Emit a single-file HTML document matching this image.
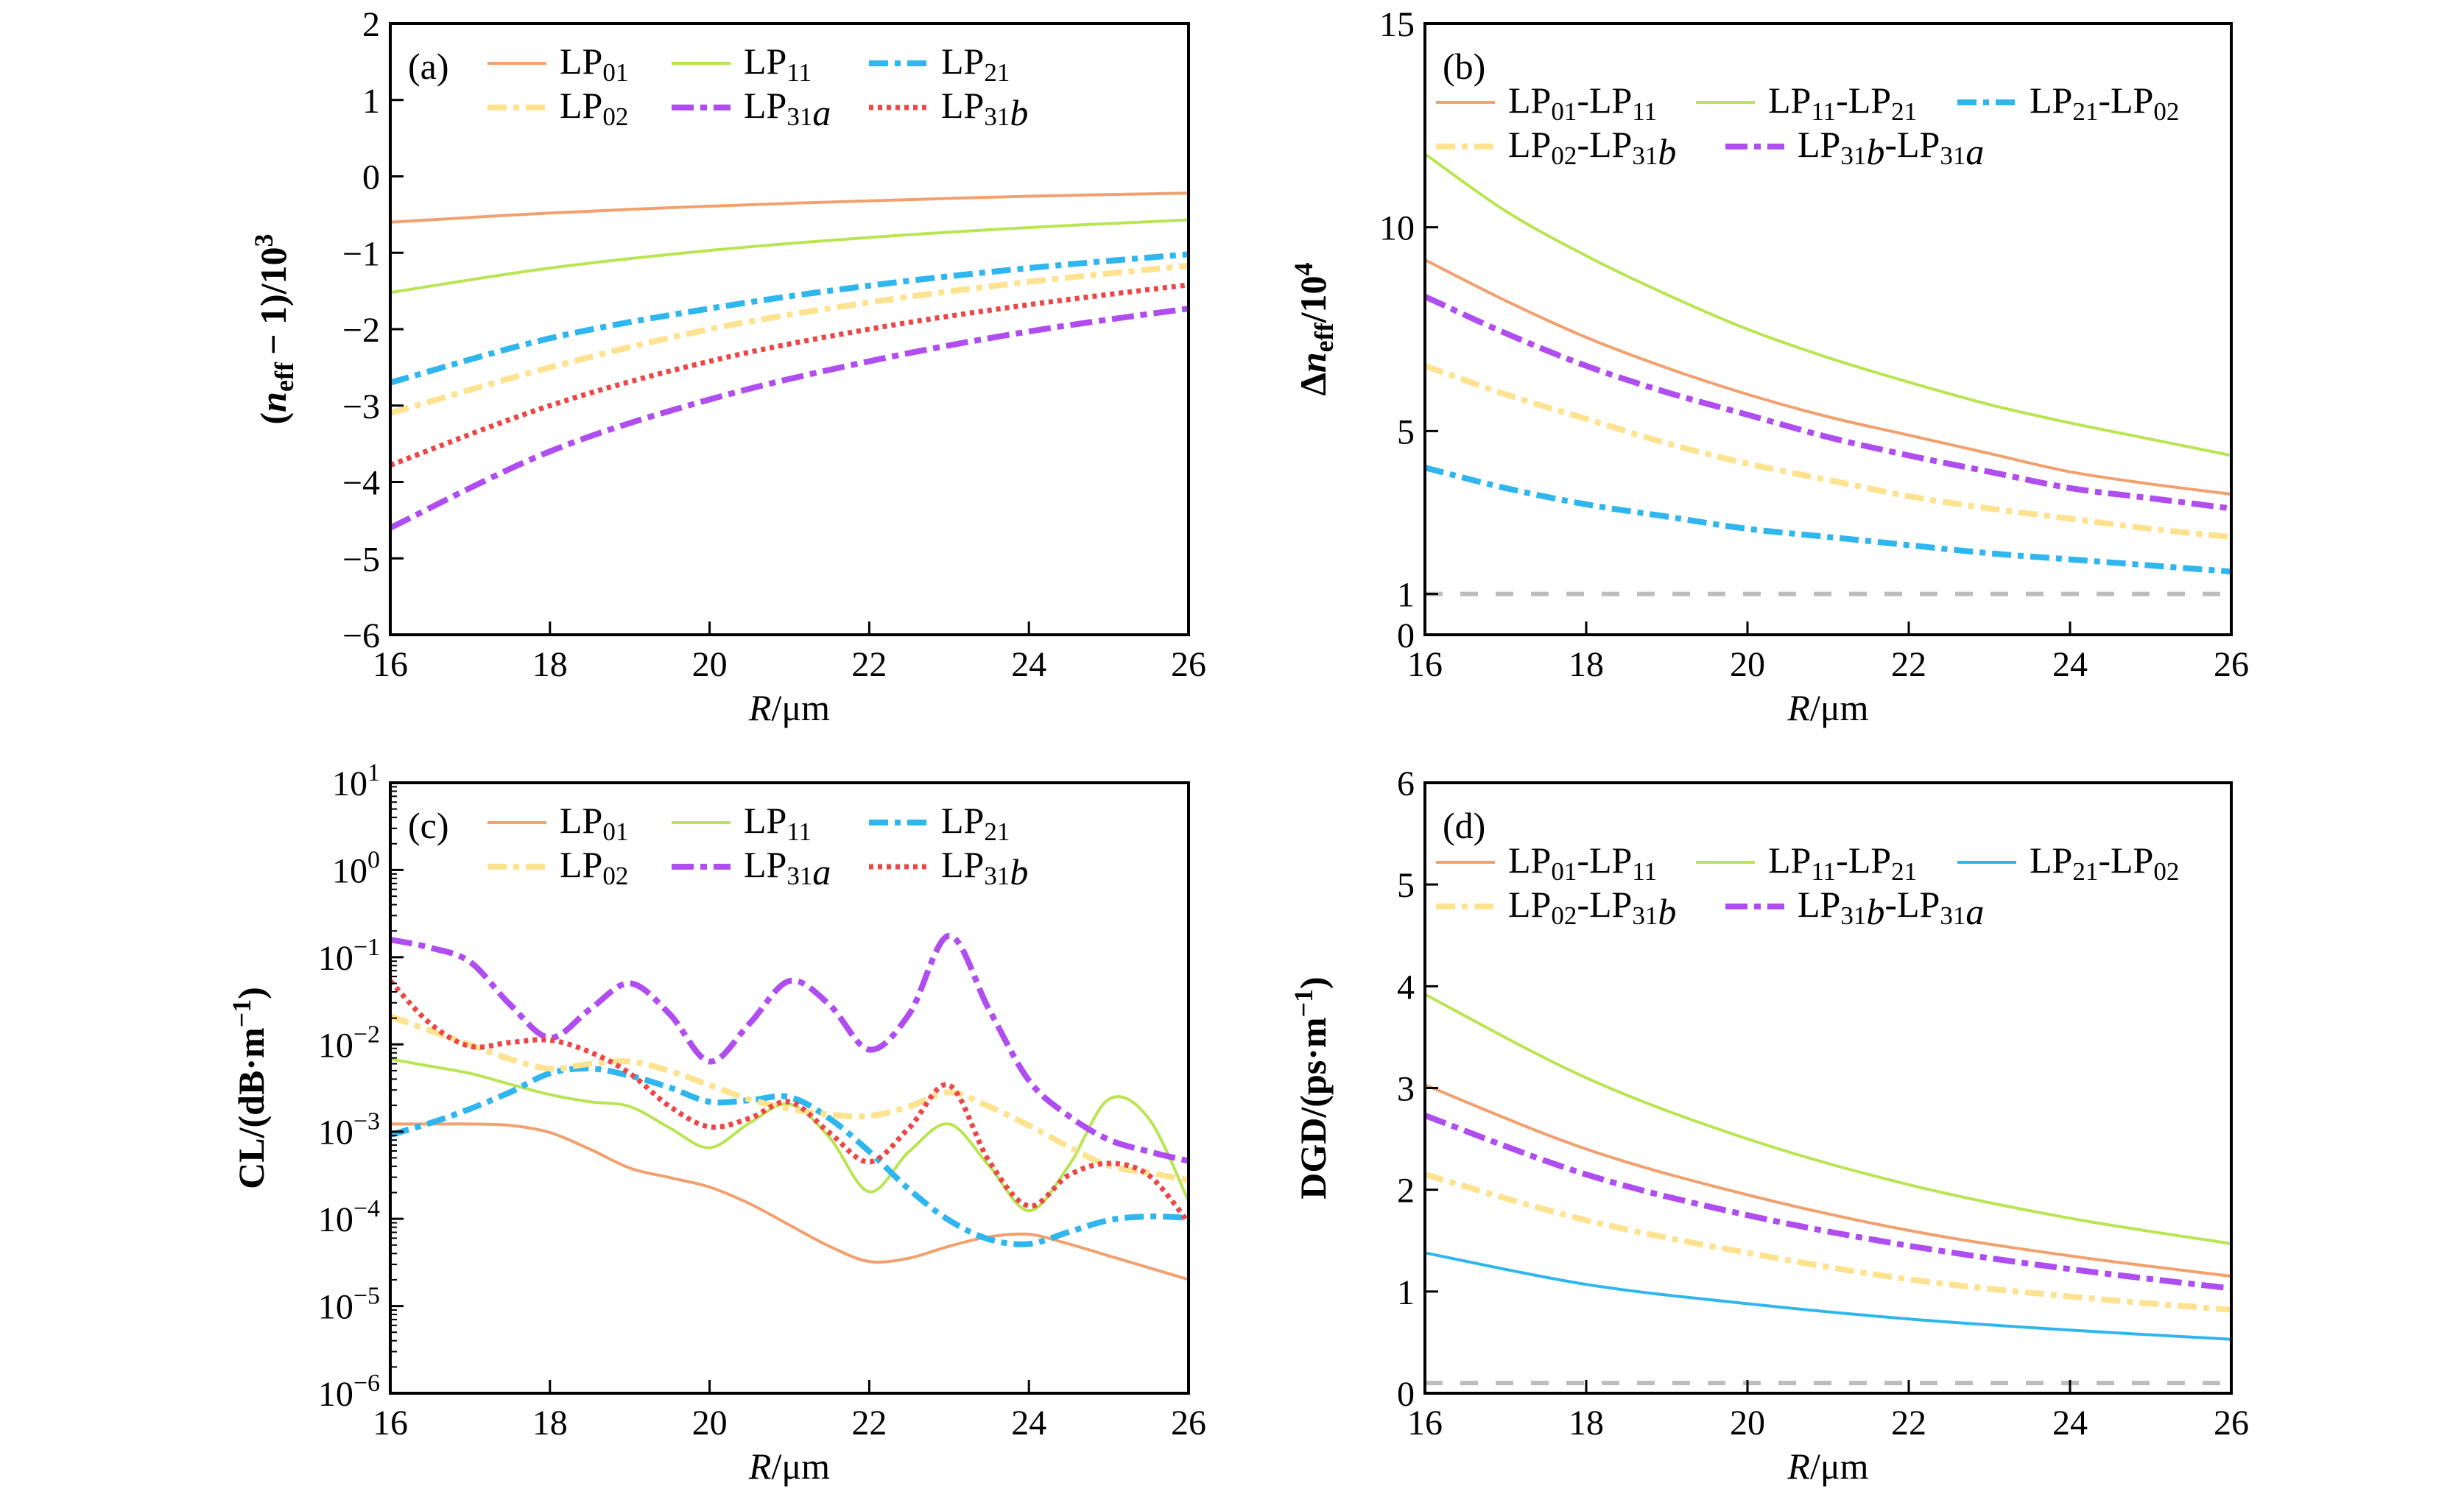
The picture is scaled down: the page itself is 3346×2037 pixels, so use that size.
<!DOCTYPE html>
<html><head><meta charset="utf-8"><style>
html,body{margin:0;padding:0;background:#fff}
svg{display:block}
text{font-family:"Liberation Serif",serif;fill:#000}
</style></head><body>
<svg id="fig" width="3346" height="2037" viewBox="0 0 3346 2037" xmlns="http://www.w3.org/2000/svg"></svg>
<script>
// ---------- data ----------
const xA = [16,18,20,22,24,26];
const aLP01 = [-0.6,-0.48,-0.39,-0.32,-0.26,-0.22];
const aLP11 = [-1.52,-1.2,-0.97,-0.8,-0.67,-0.57];
const aLP21 = [-2.7,-2.12,-1.73,-1.43,-1.2,-1.02];
const aLP02 = [-3.1,-2.5,-2.0,-1.65,-1.38,-1.17];
const aLP31a = [-4.6,-3.6,-2.92,-2.42,-2.03,-1.73];
const aLP31b = [-3.78,-3.0,-2.42,-2.0,-1.68,-1.42];

const xB = [16,17,18,19,20,21,22,23,24,25,26];
const b0111 = [9.2,8.2,7.3,6.55,5.9,5.35,4.9,4.45,4.0,3.7,3.45];
const b1121 = [11.8,10.4,9.3,8.35,7.5,6.8,6.2,5.65,5.2,4.8,4.4];
const b2102 = [4.1,3.6,3.2,2.9,2.6,2.4,2.2,2.0,1.85,1.7,1.55];
const b0231b = [6.6,5.9,5.3,4.7,4.2,3.8,3.4,3.1,2.85,2.6,2.4];
const b31b31a = [8.3,7.4,6.6,5.95,5.4,4.85,4.4,4.0,3.6,3.35,3.1];

const xC = [16,16.5,17,17.5,18,18.5,19,19.5,20,20.5,21,21.5,22,22.5,23,23.5,24,24.5,25,25.5,26];
const cLP01 = [-2.913,-2.913,-2.913,-2.929,-3.011,-3.201,-3.418,-3.527,-3.636,-3.826,-4.071,-4.315,-4.489,-4.451,-4.315,-4.207,-4.179,-4.288,-4.424,-4.560,-4.696];
const cLP11 = [-2.168,-2.250,-2.332,-2.457,-2.576,-2.658,-2.712,-2.957,-3.185,-2.902,-2.685,-3.065,-3.690,-3.228,-2.913,-3.391,-3.908,-3.391,-2.630,-2.848,-3.799];
const cLP21 = [-3.038,-2.902,-2.739,-2.549,-2.332,-2.277,-2.359,-2.495,-2.658,-2.641,-2.603,-2.848,-3.228,-3.663,-4.016,-4.234,-4.288,-4.152,-4.016,-3.973,-3.989];
const cLP02 = [-1.679,-1.842,-2.005,-2.168,-2.277,-2.223,-2.196,-2.304,-2.467,-2.630,-2.739,-2.804,-2.821,-2.712,-2.549,-2.712,-2.929,-3.174,-3.391,-3.473,-3.554];
const cLP31a = [-0.799,-0.891,-1.054,-1.543,-1.924,-1.598,-1.299,-1.652,-2.196,-1.761,-1.272,-1.543,-2.060,-1.652,-0.755,-1.598,-2.413,-2.821,-3.092,-3.228,-3.337];
const cLP31b = [-1.272,-1.761,-2.022,-1.978,-1.951,-2.087,-2.332,-2.712,-2.946,-2.848,-2.658,-3.011,-3.348,-2.957,-2.467,-3.337,-3.853,-3.500,-3.364,-3.500,-4.043];

const xD = [16,18,20,22,24,26];
const d0111 = [3.03,2.4,1.95,1.6,1.35,1.15];
const d1121 = [3.92,3.1,2.5,2.05,1.72,1.47];
const d2102 = [1.38,1.07,0.88,0.73,0.62,0.53];
const d0231b = [2.15,1.7,1.38,1.12,0.95,0.82];
const d31b31a = [2.73,2.15,1.75,1.45,1.22,1.03];

const xTicks = [16,18,20,22,24,26];
const aTicks = [2,1,0,-1,-2,-3,-4,-5,-6];
const bTicks = [0,1,5,10,15];
const cTicks = [1,0,-1,-2,-3,-4,-5,-6];
const dTicks = [0,1,2,3,4,5,6];

// ---------- styles ----------
const C = {o:'#f1a06e',g:'#b8e551',b:'#2fb6ef',y:'#fde28f',p:'#b04df0',r:'#ec4646',gr:'#bdbdbd'};
const S = {
  solid:{w:4,d:null},
  dd:{w:8,d:'26 9 8 9'},
  ddp:{w:8,d:'30 9 9 9'},
  dot:{w:7,d:'6 6'}
};
const NS='http://www.w3.org/2000/svg';
const svg=document.getElementById('fig');
function el(t,a,p){const e=document.createElementNS(NS,t);for(const k in a)e.setAttribute(k,a[k]);(p||svg).appendChild(e);return e;}

function pathD(pts){
  let d='M'+pts[0][0].toFixed(1)+','+pts[0][1].toFixed(1);
  for(let i=0;i<pts.length-1;i++){
    const p0=pts[i-1]||pts[i],p1=pts[i],p2=pts[i+1],p3=pts[i+2]||p2;
    const c1=[p1[0]+(p2[0]-p0[0])/6,p1[1]+(p2[1]-p0[1])/6];
    const c2=[p2[0]-(p3[0]-p1[0])/6,p2[1]-(p3[1]-p1[1])/6];
    d+=' C'+c1[0].toFixed(1)+','+c1[1].toFixed(1)+' '+c2[0].toFixed(1)+','+c2[1].toFixed(1)+' '+p2[0].toFixed(1)+','+p2[1].toFixed(1);
  }
  return d;
}
function lp(parent,x,y,parts,size){
  const t=el('text',{x:x,y:y,'font-size':size},parent);
  parts.forEach(pp=>{
    const s=el('tspan',{},t);
    if(pp[1]){s.setAttribute('font-size',size*0.7);s.setAttribute('dy',size*0.2);}
    else if(pp[2]){s.setAttribute('dy',-size*0.2);}
    if(pp[3])s.setAttribute('font-style','italic');
    s.textContent=pp[0];
  });
  return t;
}

function panel(cfg){
  const g=el('g',{});
  
  
  const {L,R,T,B,ymin,ymax}=cfg;
  const sx=v=>L+(v-16)/(26-16)*(R-L);
  const sy=v=>B-(v-ymin)/(ymax-ymin)*(B-T);
  const sg=el('g',{},g);
  
  
  if(cfg.ref!=null){
    const l=el('line',{x1:L,x2:R,y1:sy(cfg.ref),y2:sy(cfg.ref),stroke:C.gr,'stroke-width':6,'stroke-dasharray':'24 24'},sg);
    
    
  }
  cfg.series.forEach(s=>{
    const pts=s.y.map((v,i)=>[sx(cfg.x[i]),sy(v)]);
    const st=S[s.s];
    const p=el('path',{d:pathD(pts),fill:'none',stroke:s.c,'stroke-width':st.w},sg);
    if(st.d)p.setAttribute('stroke-dasharray',st.d);
    
    
  });
  const f=el('rect',{x:L,y:T,width:R-L,height:B-T,fill:'none',stroke:'#000','stroke-width':4},g);
  
  
  xTicks.forEach(v=>{
    el('line',{x1:sx(v),x2:sx(v),y1:B,y2:B-18,stroke:'#000','stroke-width':3},g);
    const t=el('text',{x:sx(v),y:B+56,'font-size':48,'text-anchor':'middle'},g);
    t.textContent=v;
    
    
  });
  cfg.ticks.forEach(v=>{
    el('line',{x1:L,x2:L+18,y1:sy(v),y2:sy(v),stroke:'#000','stroke-width':3},g);
    let t;
    if(cfg.log){
      t=el('text',{x:L-14,y:sy(v)+17,'font-size':48,'text-anchor':'end'},g);
      const a=el('tspan',{},t);a.textContent='10';
      const b=el('tspan',{dy:-20,'font-size':34},t);b.textContent=(v<0?'\u2212':'')+Math.abs(v);
    } else {
      t=el('text',{x:L-14,y:sy(v)+17,'font-size':48,'text-anchor':'end'},g);
      t.textContent=(v<0?'\u2212':'')+Math.abs(v);
    }
    
    
  });
  if(cfg.log){
    for(let e=cfg.ymin;e<cfg.ymax;e++)for(let k=2;k<10;k++){
      const yy=sy(e+Math.log10(k));
      el('line',{x1:L,x2:L+9,y1:yy,y2:yy,stroke:'#000','stroke-width':2},g);
    }
  }
  const xl=el('text',{x:(L+R)/2,y:B+116,'font-size':50,'text-anchor':'middle'},g);
  
  
  const x1=el('tspan',{'font-style':'italic'},xl);x1.textContent='R';
  const x2=el('tspan',{},xl);x2.textContent='/\u03bcm';
  const yl=el('text',{x:0,y:0,'font-size':50,'text-anchor':'middle','font-weight':'bold',transform:'translate('+cfg.ylx+','+((T+B)/2)+') rotate(-90)'},g);
  
  
  cfg.ylab.forEach(pp=>{
    const s=el('tspan',{},yl);
    if(pp[1]=='sub'){s.setAttribute('font-size',36);s.setAttribute('dy',10);}
    if(pp[1]=='sup'){s.setAttribute('font-size',36);s.setAttribute('dy',-18);}
    if(pp[1]=='back'){s.setAttribute('dy',pp[2]);}
    if(pp[3])s.setAttribute('font-style','italic');
    s.textContent=pp[0];
  });
  const pl=el('text',{x:L+24,y:T+75,'font-size':50},g);
  pl.textContent=cfg.tag;
  
  
  const lg=el('g',{},g);
  
  
  cfg.legend.forEach(it=>{
    const s=cfg.series.find(q=>q.id==it.id);
    const st=S[s.s];
    const e=el('g',{},lg);
    
    
    const ln=el('line',{x1:it.lx,x2:it.lx+80,y1:it.y-14,y2:it.y-14,stroke:s.c,'stroke-width':st.w},e);
    if(st.d)ln.setAttribute('stroke-dasharray',st.d);
    lp(e,it.lx+98,it.y,it.t,50);
  });
}

const LPa=(n,it)=>[['LP'],[n,1,0,it]];
panel({name:'panel-a',tag:'(a)',L:530,R:1614,T:32,B:862,ymin:-6,ymax:2,ticks:aTicks,x:xA,ylx:388,
  ylab:[['('],['n',0,0,1],['eff','sub'],['\u2009\u2212 1)/10','back',-10],['3','sup']],
  series:[{id:'lp01',y:aLP01,c:C.o,s:'solid'},{id:'lp11',y:aLP11,c:C.g,s:'solid'},{id:'lp21',y:aLP21,c:C.b,s:'dd'},
          {id:'lp02',y:aLP02,c:C.y,s:'dd'},{id:'lp31a',y:aLP31a,c:C.p,s:'ddp'},{id:'lp31b',y:aLP31b,c:C.r,s:'dot'}],
  legend:[{id:'lp01',lx:662,y:100,t:LPa('01')},{id:'lp11',lx:912,y:100,t:LPa('11')},{id:'lp21',lx:1180,y:100,t:LPa('21')},
          {id:'lp02',lx:662,y:160,t:LPa('02')},{id:'lp31a',lx:912,y:160,t:[['LP'],['31',1],['a',0,0,1]]},{id:'lp31b',lx:1180,y:160,t:[['LP'],['31',1],['b',0,0,1]]}]
});
panel({name:'panel-c',tag:'(c)',L:530,R:1614,T:1063,B:1892,ymin:-6,ymax:1,log:true,ticks:cTicks,x:xC,ylx:358,
  ylab:[['CL/(dB\u00b7m'],['\u22121','sup'],[')','back',18]],
  series:[{id:'lp01',y:cLP01,c:C.o,s:'solid'},{id:'lp11',y:cLP11,c:C.g,s:'solid'},{id:'lp21',y:cLP21,c:C.b,s:'dd'},
          {id:'lp02',y:cLP02,c:C.y,s:'dd'},{id:'lp31a',y:cLP31a,c:C.p,s:'ddp'},{id:'lp31b',y:cLP31b,c:C.r,s:'dot'}],
  legend:[{id:'lp01',lx:662,y:1131,t:LPa('01')},{id:'lp11',lx:912,y:1131,t:LPa('11')},{id:'lp21',lx:1180,y:1131,t:LPa('21')},
          {id:'lp02',lx:662,y:1191,t:LPa('02')},{id:'lp31a',lx:912,y:1191,t:[['LP'],['31',1],['a',0,0,1]]},{id:'lp31b',lx:1180,y:1191,t:[['LP'],['31',1],['b',0,0,1]]}]
});
panel({name:'panel-b',tag:'(b)',L:1935,R:3030,T:32,B:862,ymin:0,ymax:15,ticks:bTicks,x:xB,ylx:1800,ref:1,
  ylab:[['\u0394'],['n',0,0,1],['eff','sub'],['/10','back',-10],['4','sup']],
  series:[{id:'lp01-lp11',y:b0111,c:C.o,s:'solid'},{id:'lp11-lp21',y:b1121,c:C.g,s:'solid'},{id:'lp21-lp02',y:b2102,c:C.b,s:'dd'},
          {id:'lp02-lp31b',y:b0231b,c:C.y,s:'dd'},{id:'lp31b-lp31a',y:b31b31a,c:C.p,s:'ddp'}],
  legend:[{id:'lp01-lp11',lx:1950,y:153,t:[['LP'],['01',1],['-LP',0,1],['11',1]]},
          {id:'lp11-lp21',lx:2303,y:153,t:[['LP'],['11',1],['-LP',0,1],['21',1]]},
          {id:'lp21-lp02',lx:2658,y:153,t:[['LP'],['21',1],['-LP',0,1],['02',1]]},
          {id:'lp02-lp31b',lx:1950,y:213,t:[['LP'],['02',1],['-LP',0,1],['31',1],['b',0,0,1]]},
          {id:'lp31b-lp31a',lx:2343,y:213,t:[['LP'],['31',1],['b',0,0,1],['-LP',0,1],['31',1],['a',0,0,1]]}]
});
panel({name:'panel-d',tag:'(d)',L:1935,R:3030,T:1063,B:1892,ymin:0,ymax:6,ticks:dTicks,x:xD,ylx:1800,ref:0.1,
  ylab:[['DGD/(ps\u00b7m'],['\u22121','sup'],[')','back',18]],
  series:[{id:'lp01-lp11',y:d0111,c:C.o,s:'solid'},{id:'lp11-lp21',y:d1121,c:C.g,s:'solid'},{id:'lp21-lp02',y:d2102,c:C.b,s:'solid'},
          {id:'lp02-lp31b',y:d0231b,c:C.y,s:'dd'},{id:'lp31b-lp31a',y:d31b31a,c:C.p,s:'ddp'}],
  legend:[{id:'lp01-lp11',lx:1950,y:1185,t:[['LP'],['01',1],['-LP',0,1],['11',1]]},
          {id:'lp11-lp21',lx:2303,y:1185,t:[['LP'],['11',1],['-LP',0,1],['21',1]]},
          {id:'lp21-lp02',lx:2658,y:1185,t:[['LP'],['21',1],['-LP',0,1],['02',1]]},
          {id:'lp02-lp31b',lx:1950,y:1245,t:[['LP'],['02',1],['-LP',0,1],['31',1],['b',0,0,1]]},
          {id:'lp31b-lp31a',lx:2343,y:1245,t:[['LP'],['31',1],['b',0,0,1],['-LP',0,1],['31',1],['a',0,0,1]]}]
});
</script>
</body></html>
